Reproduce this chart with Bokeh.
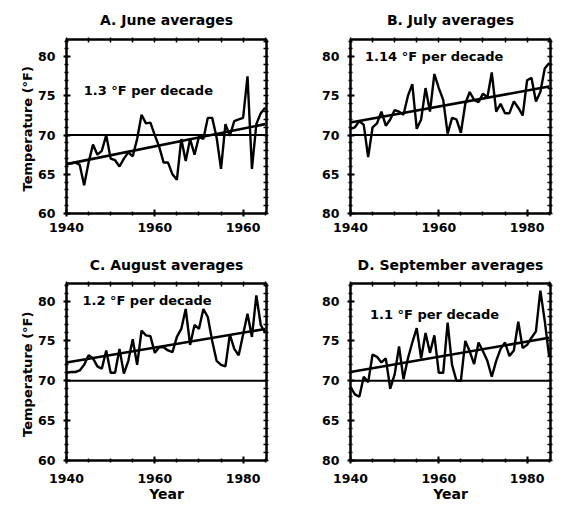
from bokeh.plotting import figure
from bokeh.models import Range1d, LinearAxis, FixedTicker, Span
from bokeh.layouts import gridplot
from bokeh.embed import file_html
from bokeh.resources import INLINE
from bokeh.core.properties import value

years = list(range(1940, 1986))

june = [66.4, 66.4, 66.5, 66.2, 63.6, 66.5, 68.8, 67.5, 68.0, 70.0,
        67.0, 66.8, 66.0, 67.0, 67.8, 67.3, 69.5, 72.6, 71.5, 71.6,
        70.0, 68.5, 66.5, 66.5, 65.0, 64.3, 69.5, 66.7, 69.5, 67.5,
        69.8, 69.5, 72.2, 72.2, 69.7, 65.7, 71.4, 69.9, 71.8, 72.0,
        72.2, 77.5, 65.7, 71.4, 72.8, 73.5]

july = [70.8, 71.0, 71.8, 71.3, 67.2, 71.0, 71.5, 73.0, 71.2, 72.0,
        73.2, 73.0, 72.6, 75.0, 76.5, 70.8, 72.0, 76.0, 73.0, 77.8,
        76.0, 74.5, 70.2, 72.2, 72.0, 70.3, 74.0, 75.5, 74.5, 74.2,
        75.3, 74.8, 78.0, 73.0, 74.0, 72.8, 72.8, 74.3, 73.5, 72.5,
        77.0, 77.3, 74.3, 75.5, 78.5, 79.2]

august = [71.0, 71.1, 71.1, 71.3, 72.0, 73.2, 72.8, 71.8, 71.5, 73.8,
          71.0, 71.0, 74.0, 70.9, 72.5, 75.2, 72.0, 76.3, 75.7, 75.6,
          73.5, 74.2, 74.2, 73.8, 73.6, 75.5, 76.5, 79.0, 74.5, 77.0,
          76.5, 79.0, 78.0, 75.0, 72.5, 72.0, 71.8, 75.8, 74.0, 73.2,
          75.8, 78.4, 75.5, 80.7, 77.0, 76.0]

september = [69.2, 68.3, 68.0, 70.5, 69.8, 73.3, 73.0, 72.3, 72.8, 69.0,
             70.8, 74.3, 70.2, 72.8, 74.8, 76.6, 72.8, 76.0, 73.5, 75.7,
             71.0, 71.0, 77.3, 72.0, 70.0, 70.0, 75.0, 73.7, 72.1, 74.8,
             73.7, 72.5, 70.5, 72.5, 74.0, 74.8, 73.1, 73.8, 77.4, 74.1,
             74.5, 75.4, 76.2, 81.3, 77.5, 73.0]

titles = ["A. June averages", "B. July averages",
          "C. August averages", "D. September averages"]
rates = ["1.3 °F per decade", "1.14 °F per decade",
         "1.2 °F per decade", "1.1 °F per decade"]
rate_x = [1943.9, 1943.3, 1943.6, 1944.4]
rate_y = [75.7, 80.0, 80.1, 78.3]

trend_years = [1940, 1985]
trend_start = [66.3, 71.6, 72.3, 71.1]
trend_end = [71.4, 76.2, 76.5, 75.4]
baseline = 70

y_ticks = [60, 65, 70, 75, 80]
y_minor = list(range(60, 83))
x_ticks = [1940, 1960, 1980]
x_minor = list(range(1940, 1986, 5))
x_label_overrides = [{1980: "1960"}, {}, {}, {}]
y_label_overrides = [{}, {60: "80"}, {}, {60: "80"}]

FONT = value("DejaVu Sans")


def make_panel(i, series, left_col, bottom_row):
    lb = 66 if left_col else 58
    rb = 26 if left_col else 4
    tb = 38 if not bottom_row else 46
    bb = 24 if not bottom_row else 44
    fh = 175 if not bottom_row else 177
    p = figure(width=lb + 200 + rb, height=tb + fh + bb,
               x_range=Range1d(1940, 1985.3), y_range=Range1d(60, 82.2),
               output_backend="svg", toolbar_location=None,
               min_border_left=lb, min_border_right=rb,
               min_border_top=tb, min_border_bottom=bb)
    p.xgrid.visible = False
    p.ygrid.visible = False
    p.background_fill_color = "white"
    p.border_fill_color = "white"
    p.outline_line_color = "black"
    p.outline_line_width = 2

    p.title.text = titles[i]
    p.title.align = "center"
    p.title.text_font = "DejaVu Sans"
    p.title.text_font_style = "bold"
    p.title.text_font_size = "14px"
    p.title.text_color = "black"
    p.title.standoff = 19 if not bottom_row else 18

    # top / right axes: tick marks only (minor ticks, so no labels)
    top_ax = LinearAxis(ticker=FixedTicker(ticks=[], minor_ticks=x_minor))
    right_ax = LinearAxis(ticker=FixedTicker(ticks=[], minor_ticks=y_minor))
    for ax in (top_ax, right_ax):
        ax.axis_line_width = 2
        ax.axis_line_color = "black"
        ax.minor_tick_line_width = 1.5
        ax.minor_tick_line_color = "black"
        ax.minor_tick_in = 3
        ax.minor_tick_out = 2
        ax.major_label_standoff = 0
    p.add_layout(top_ax, "above")
    p.add_layout(right_ax, "right")

    xa = p.below[0]
    ya = p.left[0]
    xa.ticker = FixedTicker(ticks=x_ticks, minor_ticks=x_minor)
    ya.ticker = FixedTicker(ticks=y_ticks, minor_ticks=y_minor)
    for ax in (xa, ya):
        ax.axis_line_width = 2
        ax.axis_line_color = "black"
        ax.major_tick_line_width = 2
        ax.major_tick_line_color = "black"
        ax.minor_tick_line_width = 1.5
        ax.minor_tick_line_color = "black"
        ax.major_tick_in = 4
        ax.major_tick_out = 3
        ax.minor_tick_in = 2
        ax.minor_tick_out = 2
        ax.major_label_text_font = "DejaVu Sans"
        ax.major_label_text_font_style = "bold"
        ax.major_label_text_font_size = "12.5px"
        ax.major_label_text_color = "black"
        ax.axis_label_text_font = "DejaVu Sans"
        ax.axis_label_text_font_style = "bold"
        ax.axis_label_text_color = "black"

    xa.major_label_standoff = 6 if not bottom_row else 10
    xa.major_label_overrides = x_label_overrides[i]
    ya.major_label_standoff = 8
    ya.major_label_overrides = y_label_overrides[i]

    if left_col:
        ya.axis_label = "Temperature  (°F)"
        ya.axis_label_text_font_size = "13px"
        ya.axis_label_standoff = 0
    if bottom_row:
        xa.axis_label = "Year"
        xa.axis_label_text_font_size = "14px"
        xa.axis_label_standoff = 0

    p.add_layout(Span(location=baseline, dimension="width",
                      line_color="black", line_width=2))
    p.line(trend_years, [trend_start[i], trend_end[i]],
           line_color="black", line_width=2.6)
    p.line(years, series, line_color="black", line_width=2.4)
    p.text(x=[rate_x[i]], y=[rate_y[i]], text=[rates[i]],
           text_font=FONT, text_font_style="bold", text_font_size="13px",
           text_baseline="middle", text_align="left", text_color="black")
    return p


pa = make_panel(0, june, True, False)
pb = make_panel(1, july, False, False)
pc = make_panel(2, august, True, True)
pd = make_panel(3, september, False, True)

grid = gridplot([[pa, pb], [pc, pd]], toolbar_location=None)

open("out.html", "w").write(file_html(grid, INLINE))
